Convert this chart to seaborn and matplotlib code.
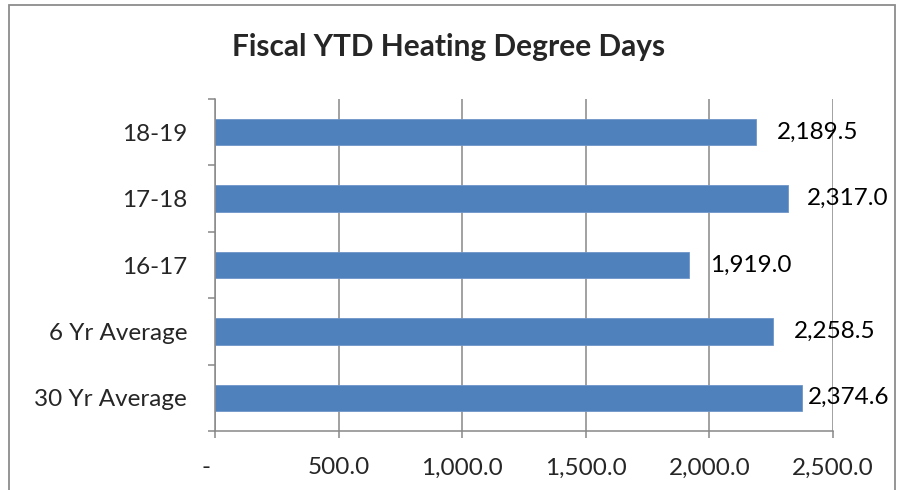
import matplotlib
matplotlib.use("Agg")
import matplotlib.pyplot as plt
import matplotlib.transforms as mtransforms
from matplotlib.patches import Rectangle
import seaborn as sns
import pandas as pd

categories = ["18-19", "17-18", "16-17", "6 Yr Average", "30 Yr Average"]
values = [2189.5, 2317.0, 1919.0, 2258.5, 2374.6]
x_ticks = [0, 500, 1000, 1500, 2000, 2500]
x_tick_labels = ["-", "500.0", "1,000.0", "1,500.0", "2,000.0", "2,500.0"]
title = "Fiscal YTD Heating Degree Days"

sns.set_theme(style="white")
plt.rcParams["font.family"] = ["Lato", "DejaVu Sans"]

W, H = 902, 490
fig = plt.figure(figsize=(W / 100, H / 100), dpi=100)
ax = fig.add_axes([215 / W, 1 - 431 / H, (833 - 215) / W, (431 - 99) / H])

df = pd.DataFrame({"cat": categories, "val": values})
sns.barplot(data=df, y="cat", x="val", orient="h", color="#4F81BD",
            saturation=1, width=0.4, ax=ax, edgecolor="#6F96C8", linewidth=0.6)

ax.set_xlim(0, 2500)
ax.set_ylim(len(categories) - 0.5, -0.5)
ax.set_xlabel("")
ax.set_ylabel("")

fs = 17.5
grid_c = "#888888"
ax.set_xticks(x_ticks)
ax.set_xticklabels(x_tick_labels, fontsize=fs)
ax.xaxis.grid(True, color=grid_c, linewidth=1.1)
ax.yaxis.grid(False)
ax.set_axisbelow(True)

ax.set_yticks(range(len(categories)))
ax.set_yticklabels(categories, fontsize=fs)
ax.set_yticks([i - 0.5 for i in range(len(categories) + 1)], minor=True)
ax.tick_params(axis="y", which="major", length=0, pad=20)
ax.tick_params(axis="y", which="minor", length=5, width=1.1, color=grid_c, left=True)
ax.tick_params(axis="x", which="major", length=5, width=1.1, color=grid_c,
               bottom=True, direction="out", pad=14)

for s in ["top", "right"]:
    ax.spines[s].set_visible(False)
for s in ["left", "bottom"]:
    ax.spines[s].set_color(grid_c)
    ax.spines[s].set_linewidth(1.1)

# shift the "-" label left
lbl0 = ax.get_xticklabels()[0]
lbl0.set_transform(lbl0.get_transform() + mtransforms.ScaledTranslation(-9 / 100, 0, fig.dpi_scale_trans))

# value labels
texts = []
for i, v in enumerate(values):
    t = ax.annotate(f"{v:,.1f}", xy=(v, i), xytext=(15, 0), textcoords="offset points",
                    ha="left", va="center", fontsize=fs, color="black", annotation_clip=False)
    texts.append(t)

fig.suptitle(title, x=0.497, y=1 - 47 / H, va="center", fontsize=21.5, fontweight="bold")

fig.canvas.draw()
renderer = fig.canvas.get_renderer()
max_right = 889
for t in texts:
    bb = t.get_window_extent(renderer)
    if bb.x1 > max_right:
        shift_px = bb.x1 - max_right
        off = t.xyann
        t.xyann = (off[0] - shift_px * 72 / fig.dpi, off[1])

fig.patches.append(Rectangle((9 / W, -0.01), (895 - 9) / W, 1 - 5 / H + 0.01,
                             transform=fig.transFigure, fill=False,
                             edgecolor="#8c8c8c", linewidth=1.3))

fig.savefig("out.png", dpi=100)
